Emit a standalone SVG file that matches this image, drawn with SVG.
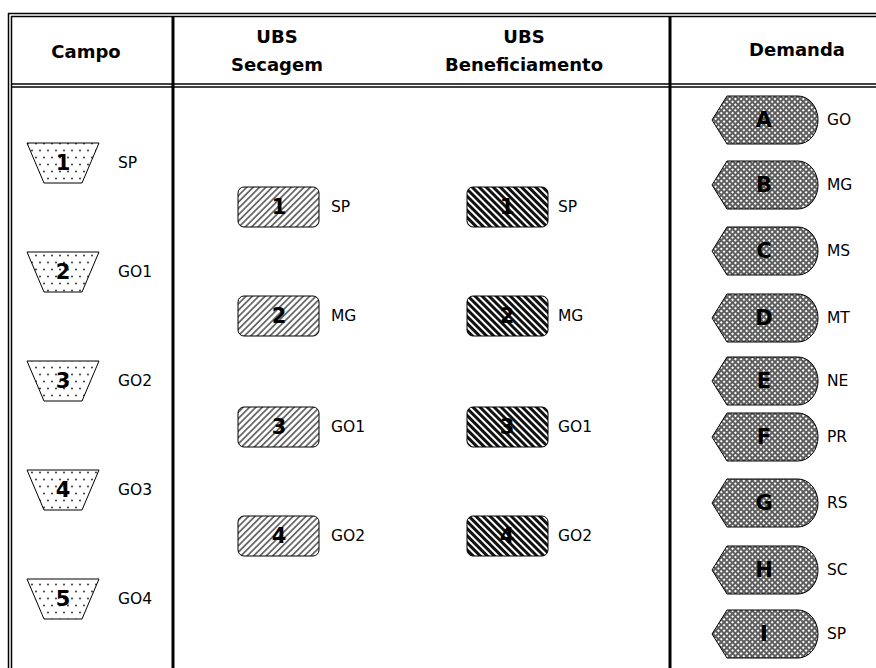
<svg xmlns="http://www.w3.org/2000/svg" width="876" height="668" viewBox="0 0 876 668">
<style>
.frame{stroke:#000;fill:none}
.hdr{font-family:"DejaVu Sans",Verdana,sans-serif;font-weight:bold;font-size:18px;fill:#000;text-anchor:middle}
.num{font-family:"DejaVu Sans",Verdana,sans-serif;font-weight:bold;font-size:21px;fill:#000;text-anchor:middle;dominant-baseline:central}
.lbl{font-family:"DejaVu Sans",Verdana,sans-serif;font-size:15.5px;fill:#000;dominant-baseline:central}
.trap{fill:url(#dots);stroke:#000;stroke-width:1}
.sec{fill:url(#fwd);stroke:#000;stroke-width:1}
.ben{fill:url(#back);stroke:#000;stroke-width:1}
.dem{fill:url(#mesh);stroke:#000;stroke-width:1}
</style>
<defs>
<pattern id="dots" width="8" height="14" patternUnits="userSpaceOnUse">
<rect width="8" height="14" fill="#fff"/>
<circle cx="4" cy="3.5" r="0.9" fill="#222"/>
<circle cx="0" cy="10.5" r="0.9" fill="#222"/>
<circle cx="8" cy="10.5" r="0.9" fill="#222"/>
</pattern>
<pattern id="fwd" width="4.5" height="4.5" patternUnits="userSpaceOnUse" patternTransform="rotate(45)">
<rect width="4.5" height="4.5" fill="#fff"/>
<rect width="1.8" height="4.5" fill="#6a6a6a"/>
</pattern>
<pattern id="back" width="5" height="5" patternUnits="userSpaceOnUse" patternTransform="rotate(-45)">
<rect width="5" height="5" fill="#fff"/>
<rect width="3" height="5" fill="#111"/>
</pattern>
<pattern id="mesh" width="4" height="4" patternUnits="userSpaceOnUse" patternTransform="rotate(45)">
<rect width="4" height="4" fill="#5e5e5e"/>
<rect x="1" y="1" width="2" height="2" fill="#fff"/>
</pattern>
</defs>

<g id="frame">
<line class="frame" x1="8" y1="13.5" x2="876" y2="13.5" stroke-width="1.5"/>
<line class="frame" x1="11" y1="16.5" x2="876" y2="16.5" stroke-width="1.5"/>
<line class="frame" x1="8.5" y1="13" x2="8.5" y2="668" stroke-width="1.5"/>
<line class="frame" x1="11.5" y1="16" x2="11.5" y2="668" stroke-width="1.5"/>
<line class="frame" x1="11" y1="84" x2="876" y2="84" stroke-width="1.5"/>
<line class="frame" x1="11" y1="87" x2="876" y2="87" stroke-width="1.5"/>
<line class="frame" x1="173" y1="16" x2="173" y2="668" stroke-width="3"/>
<line class="frame" x1="670" y1="16" x2="670" y2="668" stroke-width="3"/>
</g>

<g id="headers">
<text class="hdr" x="86" y="58">Campo</text>
<text class="hdr" x="277" y="43">UBS</text>
<text class="hdr" x="277" y="71">Secagem</text>
<text class="hdr" x="524" y="43">UBS</text>
<text class="hdr" x="524" y="71">Beneficiamento</text>
<text class="hdr" x="797" y="56">Demanda</text>
</g>

<g id="connectors"></g>

<g id="campo1"><polygon class="trap" points="27,143 99,143 82,183 44,183"/><text class="num" x="63" y="163">1</text><text class="lbl" x="118" y="163">SP</text></g>
<g id="campo2"><polygon class="trap" points="27,252 99,252 82,292 44,292"/><text class="num" x="63" y="272">2</text><text class="lbl" x="118" y="272">GO1</text></g>
<g id="campo3"><polygon class="trap" points="27,361 99,361 82,401 44,401"/><text class="num" x="63" y="381">3</text><text class="lbl" x="118" y="381">GO2</text></g>
<g id="campo4"><polygon class="trap" points="27,470 99,470 82,510 44,510"/><text class="num" x="63" y="490">4</text><text class="lbl" x="118" y="490">GO3</text></g>
<g id="campo5"><polygon class="trap" points="27,579 99,579 82,619 44,619"/><text class="num" x="63" y="599">5</text><text class="lbl" x="118" y="599">GO4</text></g>

<g id="sec1"><rect class="sec" x="238" y="187" width="81" height="40" rx="6"/><text class="num" x="279" y="207">1</text><text class="lbl" x="331" y="207">SP</text></g>
<g id="sec2"><rect class="sec" x="238" y="296" width="81" height="40" rx="6"/><text class="num" x="279" y="316">2</text><text class="lbl" x="331" y="316">MG</text></g>
<g id="sec3"><rect class="sec" x="238" y="407" width="81" height="40" rx="6"/><text class="num" x="279" y="427">3</text><text class="lbl" x="331" y="427">GO1</text></g>
<g id="sec4"><rect class="sec" x="238" y="516" width="81" height="40" rx="6"/><text class="num" x="279" y="536">4</text><text class="lbl" x="331" y="536">GO2</text></g>

<g id="ben1"><rect class="ben" x="467" y="187" width="81" height="40" rx="6"/><text class="num" x="507" y="207">1</text><text class="lbl" x="558" y="207">SP</text></g>
<g id="ben2"><rect class="ben" x="467" y="296" width="81" height="40" rx="6"/><text class="num" x="507" y="316">2</text><text class="lbl" x="558" y="316">MG</text></g>
<g id="ben3"><rect class="ben" x="467" y="407" width="81" height="40" rx="6"/><text class="num" x="507" y="427">3</text><text class="lbl" x="558" y="427">GO1</text></g>
<g id="ben4"><rect class="ben" x="467" y="516" width="81" height="40" rx="6"/><text class="num" x="507" y="536">4</text><text class="lbl" x="558" y="536">GO2</text></g>

<g id="demA"><path class="dem" d="M712,120 L727,96 H798 A20,24 0 0 1 798,144 H727 Z"/><text class="num" x="764" y="120">A</text><text class="lbl" x="827" y="120">GO</text></g>
<g id="demB"><path class="dem" d="M712,185 L727,161 H798 A20,24 0 0 1 798,209 H727 Z"/><text class="num" x="764" y="185">B</text><text class="lbl" x="827" y="185">MG</text></g>
<g id="demC"><path class="dem" d="M712,251 L727,227 H798 A20,24 0 0 1 798,275 H727 Z"/><text class="num" x="764" y="251">C</text><text class="lbl" x="827" y="251">MS</text></g>
<g id="demD"><path class="dem" d="M712,318 L727,294 H798 A20,24 0 0 1 798,342 H727 Z"/><text class="num" x="764" y="318">D</text><text class="lbl" x="827" y="318">MT</text></g>
<g id="demE"><path class="dem" d="M712,381 L727,357 H798 A20,24 0 0 1 798,405 H727 Z"/><text class="num" x="764" y="381">E</text><text class="lbl" x="827" y="381">NE</text></g>
<g id="demF"><path class="dem" d="M712,437 L727,413 H798 A20,24 0 0 1 798,461 H727 Z"/><text class="num" x="764" y="437">F</text><text class="lbl" x="827" y="437">PR</text></g>
<g id="demG"><path class="dem" d="M712,503 L727,479 H798 A20,24 0 0 1 798,527 H727 Z"/><text class="num" x="764" y="503">G</text><text class="lbl" x="827" y="503">RS</text></g>
<g id="demH"><path class="dem" d="M712,570 L727,546 H798 A20,24 0 0 1 798,594 H727 Z"/><text class="num" x="764" y="570">H</text><text class="lbl" x="827" y="570">SC</text></g>
<g id="demI"><path class="dem" d="M712,634 L727,610 H798 A20,24 0 0 1 798,658 H727 Z"/><text class="num" x="764" y="634">I</text><text class="lbl" x="827" y="634">SP</text></g>
</svg>
